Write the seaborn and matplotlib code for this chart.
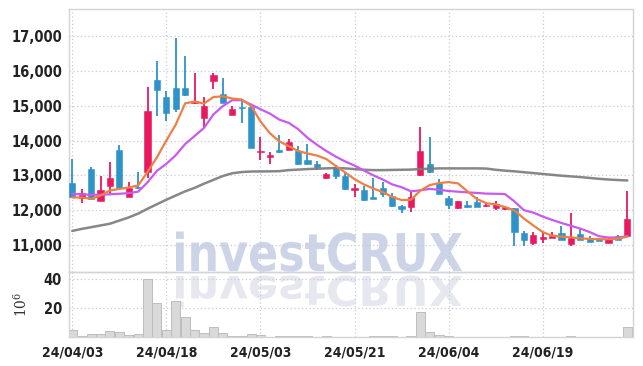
import numpy as np
import pandas as pd
import seaborn as sns
import matplotlib.pyplot as plt
from matplotlib.textpath import TextPath
from matplotlib.patches import PathPatch
from matplotlib.font_manager import FontProperties
from matplotlib.transforms import Affine2D, IdentityTransform

dates = ["24/04/03", "24/04/04", "24/04/05", "24/04/08", "24/04/09", "24/04/11", "24/04/12", "24/04/15",
         "24/04/16", "24/04/17", "24/04/18", "24/04/19", "24/04/22", "24/04/23", "24/04/24", "24/04/25",
         "24/04/26", "24/04/29", "24/04/30", "24/05/02", "24/05/03", "24/05/07", "24/05/08", "24/05/09",
         "24/05/10", "24/05/13", "24/05/14", "24/05/16", "24/05/17", "24/05/20", "24/05/21", "24/05/22",
         "24/05/23", "24/05/24", "24/05/27", "24/05/28", "24/05/29", "24/05/30", "24/05/31", "24/06/03",
         "24/06/04", "24/06/05", "24/06/07", "24/06/10", "24/06/11", "24/06/12", "24/06/13", "24/06/14",
         "24/06/17", "24/06/18", "24/06/19", "24/06/20", "24/06/21", "24/06/24", "24/06/25", "24/06/26",
         "24/06/27", "24/06/28", "24/07/01", "24/07/02"]

opens = [12790, 12360, 13190, 12270, 12700, 13740, 12390, 12660, 13110, 15750,
         15240, 15500, 15520, 15070, 14650, 15720, 15350, 14740, 14970, 14950,
         13660, 13540, 13740, 13740, 13710, 13450, 13330, 12910, 13240, 12970,
         12580, 12570, 12390, 12650, 12410, 12120, 12080, 13000, 13320, 12780,
         12350, 12050, 12160, 12240, 12110, 12050, 12030, 12050, 11340, 11070,
         11180, 11200, 11350, 11030, 11320, 11180, 11165, 11070, 11260, 11260]
highs = [13480, 12610, 13250, 12990, 13370, 13880, 12820, 13110, 15530, 16280,
         15430, 16960, 16430, 15950, 15260, 15930, 15810, 14990, 15130, 15000,
         14090, 13660, 14160, 14030, 13830, 13910, 13400, 13080, 13300, 13070,
         12760, 12680, 12920, 12820, 12490, 12140, 12520, 14390, 14090, 12890,
         12410, 12260, 12270, 12375, 12200, 12270, 12120, 12060, 11410, 11380,
         11365, 11360, 11530, 11910, 11450, 11250, 11190, 11200, 11280, 12540]
lows = [12370, 12210, 12300, 12260, 12440, 12640, 12380, 12600, 12920, 14700,
        14550, 14810, 15270, 15060, 14370, 15490, 15070, 14730, 14490, 13800,
        13450, 13335, 13650, 13730, 13290, 13310, 13160, 12900, 12890, 12590,
        12375, 12260, 12320, 12390, 12100, 11930, 11950, 12990, 13080, 12460,
        12030, 12040, 12060, 12080, 12080, 12010, 11990, 10980, 10980, 11000,
        11070, 11190, 11140, 10970, 11130, 11080, 11100, 11060, 11130, 11220]
closes = [12380, 12500, 12330, 12585, 12930, 12650, 12650, 12630, 14840, 15450,
          14780, 14920, 15320, 15150, 15000, 15870, 15080, 14920, 14930, 13800,
          13710, 13590, 13660, 13970, 13320, 13320, 13240, 13040, 12970, 12610,
          12650, 12300, 12330, 12470, 12120, 12030, 12370, 13710, 13110, 12470,
          12160, 12250, 12100, 12100, 12140, 12180, 12090, 11380, 11140, 11290,
          11230, 11250, 11145, 11210, 11145, 11095, 11115, 11165, 11145, 11740]

ma_short = [12364, 12364, 12326, 12420, 12565, 12610, 12650, 12710, 13100, 13520,
            14000, 14460, 15070, 15120, 15063, 15250, 15270, 15208, 15179, 15000,
            14550, 14210, 13977, 13840, 13700, 13630, 13570, 13470, 13270, 13085,
            12890, 12740, 12620, 12520, 12380, 12290, 12300, 12560, 12720, 12778,
            12805, 12770, 12540, 12320, 12200, 12165, 12090, 11990, 11760, 11560,
            11370, 11265, 11240, 11218, 11191, 11173, 11164, 11164, 11180, 11240]
ma_mid = [12470, 12450, 12441, 12441, 12455, 12470, 12490, 12530, 12800, 13130,
          13330, 13580, 13900, 14130, 14362, 14750, 14990, 15159, 15159, 15035,
          14900, 14775, 14602, 14510, 14330, 14080, 13880, 13700, 13540, 13400,
          13280, 13140, 13000, 12880, 12740, 12660, 12540, 12570, 12610, 12585,
          12550, 12530, 12510, 12495, 12475, 12470, 12461, 12250, 12000, 11930,
          11816, 11720, 11630, 11550, 11470, 11370, 11250, 11212, 11212, 11255]
ma_long = [11403, 11460, 11510, 11560, 11610, 11700, 11790, 11900, 12040, 12170,
           12300, 12420, 12540, 12640, 12760, 12870, 12980, 13060, 13094, 13110,
           13112, 13115, 13120, 13150, 13165, 13180, 13190, 13200, 13210, 13200,
           13180, 13160, 13150, 13150, 13155, 13160, 13165, 13180, 13190, 13200,
           13200, 13200, 13200, 13200, 13195, 13160, 13135, 13115, 13090, 13065,
           13040, 13015, 12990, 12970, 12950, 12925, 12900, 12880, 12865, 12853]

volume = [4.5, 0.7, 2.0, 2.0, 4.1, 3.4, 1.1, 2.0, 39.8, 23.5,
          4.5, 25.1, 14.0, 4.5, 2.5, 7.2, 2.7, 0.9, 0.9, 1.8,
          1.1, 0.3, 0.9, 0.4, 0.4, 0.9, 0.2, 0.4, 0.2, 0.2,
          0.3, 0.3, 0.4, 0.4, 0.5, 0.3, 0.6, 17.2, 3.2, 1.4,
          0.5, 0.3, 0.2, 0.3, 0.2, 0.2, 0.2, 0.6, 0.5, 0.3,
          0.2, 0.2, 0.3, 0.6, 0.2, 0.2, 0.2, 0.2, 0.3, 7.0]

UP = "#e8195f"
DOWN = "#2e93c9"
GRID = "#c6cadc"

sns.set_theme(style="white")
plt.rcParams['font.family'] = ['DejaVu Sans']
plt.rcParams['font.stretch'] = 'condensed'
plt.rcParams['mathtext.fontset'] = 'dejavuserif'

df = pd.DataFrame({"idx": np.arange(len(dates)), "date": dates, "open": opens, "high": highs,
                   "low": lows, "close": closes, "ma5": ma_short, "ma10": ma_mid,
                   "ma60": ma_long, "vol": volume})
df["up"] = df["close"] >= df["open"]
df["color"] = np.where(df["up"], UP, DOWN)

fig = plt.figure(figsize=(6.43, 3.66), dpi=100)
ax = fig.add_axes([0.1073, 0.2568, 0.8771, 0.7186])
axv = fig.add_axes([0.1073, 0.0792, 0.8771, 0.1776], sharex=ax)
for a in (ax, axv):
    a.set_facecolor("none")
    for s in a.spines.values():
        s.set_color("#d4d4d8")
        s.set_linewidth(1.0)
    a.grid(True, color=GRID, linestyle=(0, (1, 2)), linewidth=0.9)
    a.set_axisbelow(True)
    a.tick_params(length=0, labelsize=10.5, colors="#222222", pad=5)
axv.tick_params(axis="x", labelsize=10, pad=6)

# watermark with reflection
fp = FontProperties(family="DejaVu Sans", weight="bold", stretch="normal")
tp = TextPath((0, 0), "investCRUX", prop=fp, size=100)
bb = tp.get_extents()
sx = 286 / bb.width
wm = PathPatch(tp, transform=Affine2D().translate(-bb.x0, 0).scale(sx, 38 / 73).translate(176, 366 - 271)
               + IdentityTransform(), facecolor="#cdd4e8", edgecolor="none", zorder=-1)
wr = PathPatch(tp, transform=Affine2D().translate(-bb.x0, 0).scale(sx, -30 / 73).translate(176, 366 - 276)
               + IdentityTransform(), facecolor="#e7e8ef", edgecolor="none", zorder=-1)
fig.add_artist(wm)
fig.add_artist(wr)

# candles
ax.vlines(df["idx"], df["low"], df["high"], colors=df["color"], linewidth=1.3, zorder=2)
ax.bar(df["idx"], (df["close"] - df["open"]).abs().clip(lower=25), bottom=df[["open", "close"]].min(axis=1),
       width=0.66, color=df["color"], edgecolor=df["color"], linewidth=0.4, zorder=3)

sns.lineplot(data=df, x="idx", y="ma60", ax=ax, color="#7a7a7a", linewidth=1.8, alpha=0.9, zorder=4)
sns.lineplot(data=df, x="idx", y="ma10", ax=ax, color="#c95af0", linewidth=1.6, zorder=4)
sns.lineplot(data=df, x="idx", y="ma5", ax=ax, color="#ee7f45", linewidth=1.6, zorder=5)

yt = [11000, 12000, 13000, 14000, 15000, 16000, 17000]
ax.set_ylim(10222, 17780)
ax.set_yticks(yt)
ax.set_yticklabels([f"{v:,}" for v in yt], fontweight="bold")
ax.set_xlim(-0.35, 59.6)
ax.set_xlabel("")
ax.set_ylabel("")
ax.tick_params(axis="x", labelbottom=False)

# volume
axv.bar(df["idx"], df["vol"], width=0.96, color="#d9d9d9", edgecolor="#bdbdbd", linewidth=0.7, zorder=2)
axv.set_ylim(0, 44.7)
axv.set_yticks([20, 40])
axv.set_yticklabels(["20", "40"], fontweight="bold")
axv.set_ylabel(r"$10^6$", fontsize=11, color="#333333", labelpad=10)
ticks = df["idx"][::10].tolist()
axv.set_xticks(ticks)
axv.set_xticklabels(df["date"][::10].tolist(), fontweight="bold")
axv.set_xlim(-0.35, 59.6)

fig.savefig("out.png", dpi=100)
